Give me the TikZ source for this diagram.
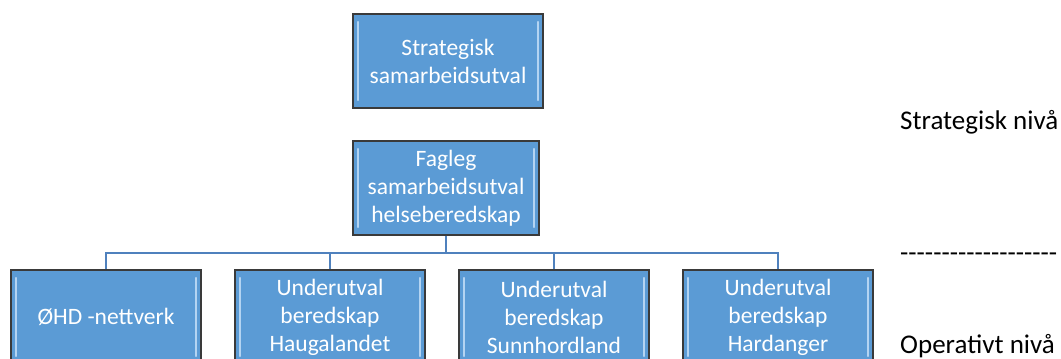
\documentclass[tikz,border=0pt]{standalone}
\usepackage{fontspec}
\setmainfont{Carlito}
\usetikzlibrary{positioning}
\definecolor{boxblue}{HTML}{5B9BD5}
\definecolor{boxedge}{HTML}{3A3A3A}
\definecolor{linkblue}{HTML}{4F81BD}
\definecolor{bevel}{HTML}{B4D4F2}
\begin{document}
\begin{tikzpicture}[x=1pt,y=-1pt,
  orgbox/.style={draw=boxedge,line width=1.3pt,fill=boxblue,text=white,
    minimum width=190pt,minimum height=94pt,inner sep=2pt,align=center,
    font=\fontsize{23.5}{28}\selectfont,
    path picture={
      \draw[bevel,line width=2.2pt,line cap=round]
        ([xshift=5pt,yshift=-8pt]path picture bounding box.north west) --
        ([xshift=5pt,yshift=8pt]path picture bounding box.south west);
      \draw[bevel,line width=2.2pt,line cap=round]
        ([xshift=-5pt,yshift=-8pt]path picture bounding box.north east) --
        ([xshift=-5pt,yshift=8pt]path picture bounding box.south east);}},
  link/.style={draw=linkblue,line width=2pt},
  levellabel/.style={anchor=west,inner sep=0pt,font=\fontsize{27}{32}\selectfont}]
\clip (0,0) rectangle (1061,359);
% strategic level
\node[orgbox] (strat) at (448,61) {Strategisk\\samarbeidsutval};
\node[orgbox,minimum width=186pt] (fag) at (446,188) {Fagleg\\samarbeidsutval\\helseberedskap};
% operative level
\node[orgbox] (ohd) at (106,317) {ØHD -nettverk};
\node[orgbox] (haug) at (330,317) {Underutval\\beredskap\\Haugalandet};
\node[orgbox] (sunn) at (554,317) {Underutval\\beredskap\\Sunnhordland};
\node[orgbox] (hard) at (778,317) {Underutval\\beredskap\\Hardanger};
% connectors
\coordinate (bus) at (446,253);
\draw[link] (fag.south) -- (bus);
\draw[link] (ohd.north) |- (bus) -| (hard.north);
\draw[link] (haug.north) -- (haug.north |- bus);
\draw[link] (sunn.north) -- (sunn.north |- bus);
% level labels
\node[levellabel] (stratlvl) at (900,122) {Strategisk nivå};
\node[levellabel] (divide) at (900,257) {-{}-{}-{}-{}-{}-{}-{}-{}-{}-{}-{}-{}-{}-{}-{}-{}-{}-{}-};
\node[levellabel] (oplvl) at (900,346) {Operativt nivå};
\end{tikzpicture}
\end{document}
